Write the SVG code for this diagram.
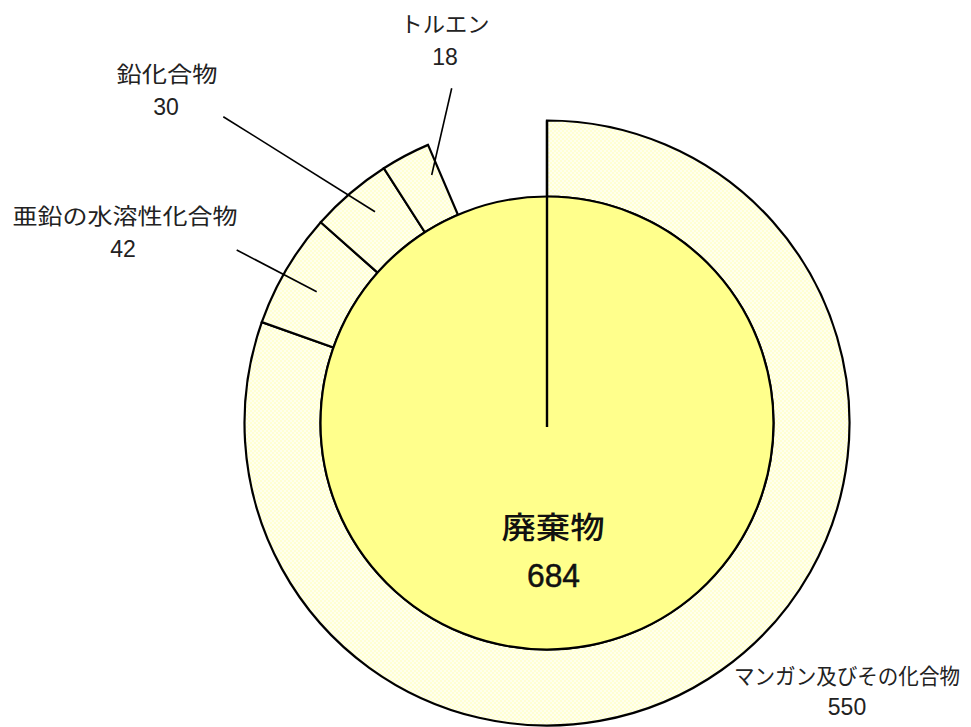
<svg xmlns="http://www.w3.org/2000/svg" width="971" height="727" viewBox="0 0 971 727">
  <defs>
    <pattern id="dots" width="4" height="4" patternUnits="userSpaceOnUse">
      <rect width="4" height="4" fill="#FFFFEE"/>
      <rect x="0" y="0" width="2" height="2" fill="#FFFFD2"/>
      <rect x="2" y="2" width="2" height="2" fill="#FFFFD2"/>
    </pattern>
    <style>
      .ring { fill: url(#dots); stroke: #000; stroke-width: 2.2; stroke-linejoin: miter; }
      .core { fill: #FFFF8C; stroke: #000; stroke-width: 2.2; }
      .lead { stroke: #000; stroke-width: 1.6; fill: none; }
      .lbl { font-family: "Noto Sans CJK JP", "Noto Sans", sans-serif; font-size: 22px; fill: #222; text-anchor: middle; }
      .num { font-family: "Liberation Sans", Arial, sans-serif; font-size: 23px; fill: #222; text-anchor: middle; }
      .clbl { font-family: "Noto Sans CJK JP", "Noto Sans", sans-serif; font-size: 30px; font-weight: 500; fill: #111; text-anchor: middle; }
      .cnum { font-family: "Liberation Sans", Arial, sans-serif; font-size: 33px; fill: #111; text-anchor: middle; stroke: #111; stroke-width: 0.5; }
    </style>
  </defs>
  <rect width="971" height="727" fill="#FFFFFF"/>

  <g id="node-manganese">
    <path class="ring" d="M 547 120.5 A 302.5 302.5 0 1 1 261.81 322.15 L 333.46 347.49 A 226.5 226.5 0 1 0 547 196.5 Z"/>
  </g>
  <g id="node-zinc">
    <path class="ring" d="M 261.81 322.15 A 302.5 302.5 0 0 1 320.72 222.25 L 377.57 272.68 A 226.5 226.5 0 0 0 333.46 347.49 Z"/>
  </g>
  <g id="node-lead">
    <path class="ring" d="M 320.72 222.25 A 302.5 302.5 0 0 1 383.88 168.25 L 424.86 232.25 A 226.5 226.5 0 0 0 377.57 272.68 Z"/>
  </g>
  <g id="node-toluene">
    <path class="ring" d="M 383.88 168.25 A 302.5 302.5 0 0 1 428.04 144.88 L 457.92 214.75 A 226.5 226.5 0 0 0 424.86 232.25 Z"/>
  </g>
  <g id="node-waste">
    <circle class="core" cx="547" cy="423" r="226.5"/>
    <line x1="547" y1="120.5" x2="547" y2="427" stroke="#000" stroke-width="2.4"/>
    <text class="clbl" x="553" y="538" textLength="103" lengthAdjust="spacingAndGlyphs">廃棄物</text>
    <text class="cnum" x="553.5" y="587" textLength="53" lengthAdjust="spacingAndGlyphs">684</text>
  </g>

  <g id="connectors">
    <line class="lead" x1="451.7" y1="88.3" x2="431.7" y2="175"/>
    <line class="lead" x1="223.3" y1="116.7" x2="375" y2="211.7"/>
    <line class="lead" x1="236.7" y1="250" x2="316.7" y2="291.7"/>
  </g>

  <g id="labels">
    <text class="lbl" x="445" y="32" textLength="89" lengthAdjust="spacingAndGlyphs">トルエン</text>
    <text class="num" x="445" y="65">18</text>
    <text class="lbl" x="167" y="82" textLength="101" lengthAdjust="spacingAndGlyphs">鉛化合物</text>
    <text class="num" x="166" y="115">30</text>
    <text class="lbl" x="125" y="224" textLength="225" lengthAdjust="spacingAndGlyphs">亜鉛の水溶性化合物</text>
    <text class="num" x="123" y="257">42</text>
    <text class="lbl" x="847" y="684" textLength="226" lengthAdjust="spacingAndGlyphs">マンガン及びその化合物</text>
    <text class="num" x="847" y="715">550</text>
  </g>
</svg>
